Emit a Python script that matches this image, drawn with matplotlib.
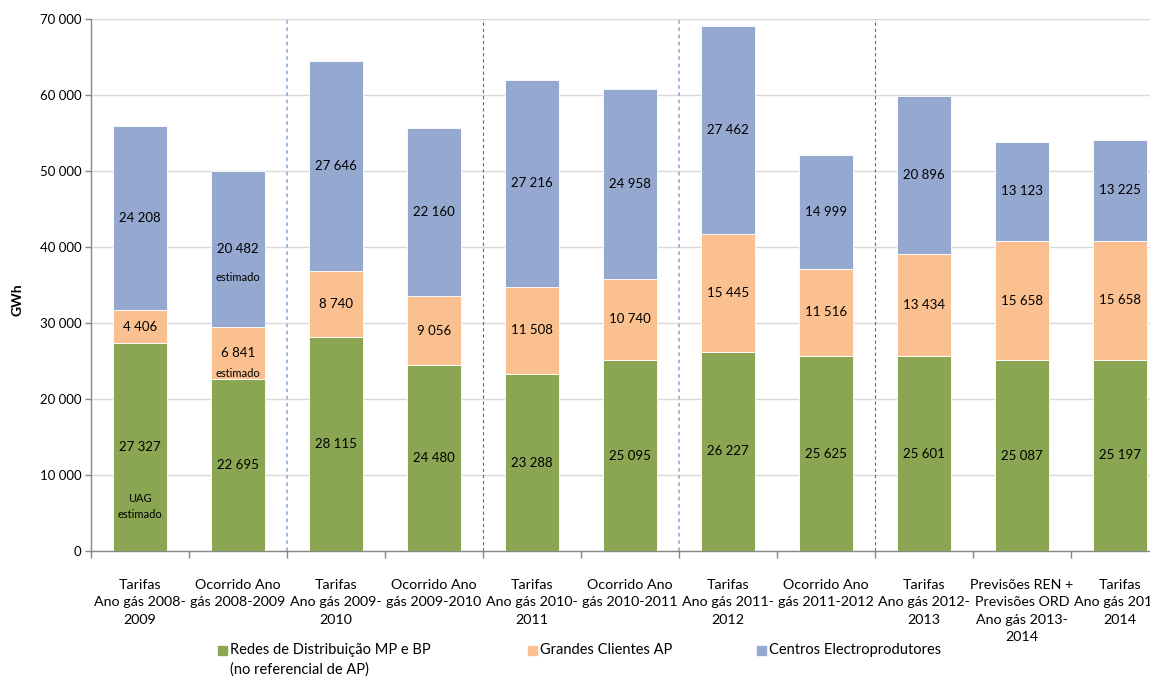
import matplotlib
matplotlib.use("Agg")
import matplotlib.pyplot as plt
from matplotlib.patches import Rectangle
import numpy as np

plt.rcParams['font.family'] = ['Lato', 'DejaVu Sans']

categories = [
    "Tarifas\nAno gás 2008-\n2009",
    "Ocorrido Ano\ngás 2008-2009",
    "Tarifas\nAno gás 2009-\n2010",
    "Ocorrido Ano\ngás 2009-2010",
    "Tarifas\nAno gás 2010-\n2011",
    "Ocorrido Ano\ngás 2010-2011",
    "Tarifas\nAno gás 2011-\n2012",
    "Ocorrido Ano\ngás 2011-2012",
    "Tarifas\nAno gás 2012-\n2013",
    "Previsões REN +\nPrevisões ORD\nAno gás 2013-\n2014",
    "Tarifas\nAno gás 2013-\n2014",
]
redes = [27327, 22695, 28115, 24480, 23288, 25095, 26227, 25625, 25601, 25087, 25197]
grandes = [4406, 6841, 8740, 9056, 11508, 10740, 15445, 11516, 13434, 15658, 15658]
centros = [24208, 20482, 27646, 22160, 27216, 24958, 27462, 14999, 20896, 13123, 13225]
series_names = ["Redes de Distribuição MP e BP\n(no referencial de AP)",
                "Grandes Clientes AP", "Centros Electroprodutores"]
yticks = [0, 10000, 20000, 30000, 40000, 50000, 60000, 70000]

c_green = "#8AA653"
c_orange = "#FAC090"
c_blue = "#95A9D0"

def fmt(v):
    return f"{v:,.0f}".replace(",", " ")

fig = plt.figure(figsize=(11.5, 6.77), dpi=100)
ax = fig.add_axes([91/1150, 126/677, (1169-91)/1150, (551-19)/677])

x = np.arange(len(categories))
w = 0.55
r = np.array(redes); g = np.array(grandes); c = np.array(centros)
ax.bar(x, r, w, color=c_green, edgecolor="white", linewidth=0.6, zorder=3)
ax.bar(x, g, w, bottom=r, color=c_orange, edgecolor="white", linewidth=0.6, zorder=3)
ax.bar(x, c, w, bottom=r + g, color=c_blue, edgecolor="white", linewidth=0.6, zorder=3)

# value labels centred in each segment
for i in range(len(x)):
    ax.text(x[i], r[i] / 2, fmt(r[i]), ha="center", va="center", fontsize=9.5, zorder=4)
    ax.text(x[i], r[i] + g[i] / 2, fmt(g[i]), ha="center", va="center", fontsize=9.5, zorder=4)
    ax.text(x[i], r[i] + g[i] + c[i] / 2, fmt(c[i]), ha="center", va="center", fontsize=9.5, zorder=4)

# notes on estimated figures
ax.text(x[0], 5900, "UAG\nestimado", ha="center", va="center", fontsize=8,
        linespacing=1.55, zorder=4)
ax.text(x[1], r[1] + g[1] / 2 - 2700, "estimado", ha="center", va="center", fontsize=8, zorder=4)
ax.text(x[1], r[1] + g[1] + c[1] / 2 - 3800, "estimado", ha="center", va="center", fontsize=8, zorder=4)

# separators between gas years
for pos, col, ls, lw in [(1.5, "#95B3D7", (0, (2, 2)), 1.3), (3.5, "#4F6C9E", (0, (3, 2.5)), 0.8),
                         (5.5, "#95B3D7", (0, (2, 2)), 1.3), (7.5, "#4F6C9E", (0, (3, 2.5)), 0.8)]:
    ax.plot([pos, pos], [0, 70000], color=col, linestyle=ls, linewidth=lw, zorder=2)

ax.set_xlim(-0.5, len(categories) - 0.5)
ax.set_ylim(0, 70000)
ax.set_yticks(yticks)
ax.set_yticklabels([fmt(v) for v in yticks], fontsize=9.5)
ax.yaxis.grid(True, color="#D9D9D9", linewidth=1, zorder=0)
ax.set_axisbelow(True)

# category labels under the axis
ax.set_xticks(x)
ax.set_xticklabels([])
ax.tick_params(axis="x", which="major", length=0)
for xi, lab in zip(x, categories):
    ax.text(xi, -0.052, lab, transform=ax.get_xaxis_transform(), ha="center", va="top",
            fontsize=10.3, linespacing=1.55, clip_on=False)
ax.set_xticks(np.arange(-0.5, len(categories), 1), minor=True)
ax.tick_params(axis="x", which="minor", length=5, color="#888888", width=1)
ax.tick_params(axis="y", length=4, color="#888888", width=1, pad=3)

for s in ["top", "right"]:
    ax.spines[s].set_visible(False)
for s in ["left", "bottom"]:
    ax.spines[s].set_color("#888888")
    ax.spines[s].set_linewidth(1)

fig.text(18/1150, 1 - 300/677, "GWh", rotation=90, ha="center", va="center",
         fontsize=10, fontweight="bold")

# legend row below the plot
legend_items = [(218, c_green, series_names[0]), (528, c_orange, series_names[1]),
                (757, c_blue, series_names[2])]
for px, col, name in legend_items:
    fig.patches.append(Rectangle((px / 1150, 1 - 655 / 677), 9 / 1150, 9 / 677,
                                 transform=fig.transFigure, color=col))
    fig.text((px + 12) / 1150, 1 - 643 / 677, name, ha="left", va="top",
             fontsize=10.5, linespacing=1.5)

fig.savefig("out.png", dpi=100)
